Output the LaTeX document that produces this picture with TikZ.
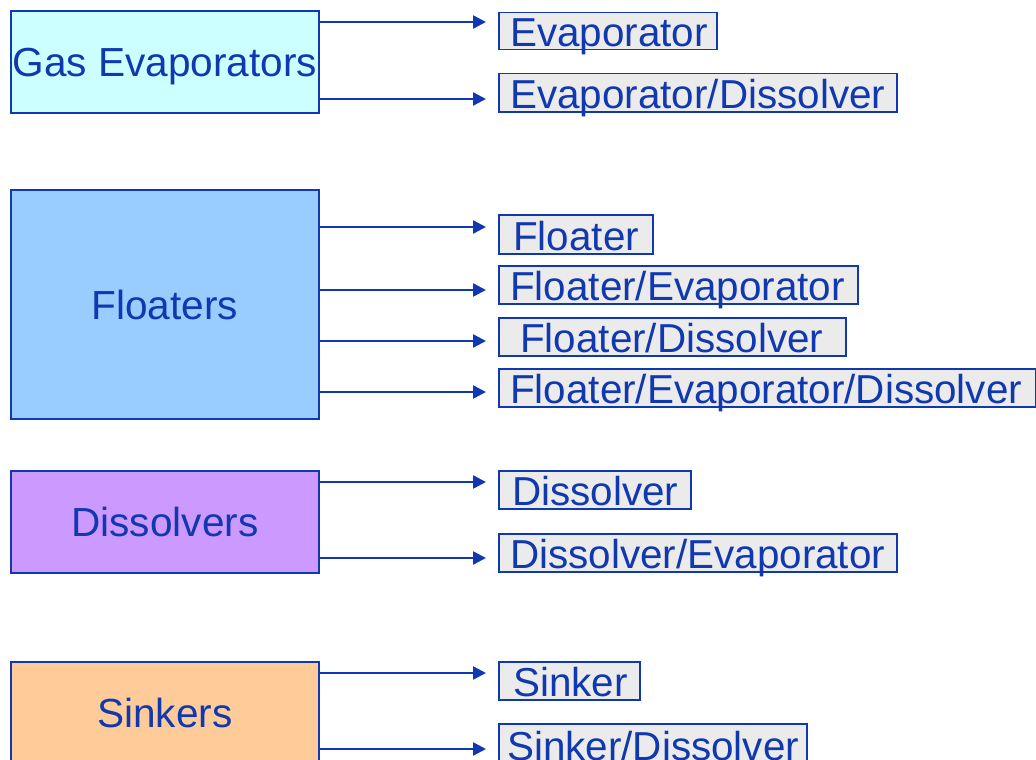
\documentclass[tikz,border=0pt]{standalone}
\usepackage{fontspec}
\setmainfont{Liberation Sans}
\usetikzlibrary{arrows.meta,calc}
\definecolor{ink}{RGB}{16,56,176}
\definecolor{gasfill}{RGB}{204,255,255}
\definecolor{floatfill}{RGB}{153,204,255}
\definecolor{dissfill}{RGB}{204,153,255}
\definecolor{sinkfill}{RGB}{255,204,153}
\definecolor{labfill}{RGB}{235,235,235}
\tikzset{
  x=1pt, y=-1pt,
  catbox/.style={draw=ink, line width=1.8pt, rectangle, anchor=north west, inner sep=0pt},
  cattext/.style={text=ink, font=\fontsize{40.6}{44}\selectfont, anchor=base, inner sep=0pt},
  labbox/.style={draw=ink, line width=1.5pt, fill=labfill, rectangle, anchor=north west, inner sep=0pt},
  labtext/.style={text=ink, font=\fontsize{40.4}{44}\selectfont, anchor=base west, inner sep=0pt},
  arr/.style={draw=ink, line width=2.5pt, -{Triangle[length=13pt,width=13pt]}},
}
\newcommand{\lab}[7]{% name, x, y, w, h, text xoffset, text
  \node[labbox, minimum width=#4pt, minimum height=#5pt] (#1) at (#2,#3) {};
  \node[labtext] (#1t) at ($(#1.south west)+(#6,-4)$) {#7};
}
\begin{document}
\begin{tikzpicture}
\useasboundingbox (0,0) rectangle (1036,760);
\fill[white] (0,0) rectangle (1036,760);
% category boxes
\node[catbox, fill=gasfill, minimum width=308pt, minimum height=102pt] (gas) at (10,10) {};
\node[cattext] (gast) at ($(gas.center)+(0,15)$) {Gas Evaporators};
\node[catbox, fill=floatfill, minimum width=308pt, minimum height=229pt] (flo) at (10,189) {};
\node[cattext] (flot) at ($(flo.center)+(0,15)$) {Floaters};
\node[catbox, fill=dissfill, minimum width=308pt, minimum height=102pt] (dis) at (10,470) {};
\node[cattext] (dist) at ($(dis.center)+(0,15)$) {Dissolvers};
\node[catbox, fill=sinkfill, minimum width=308pt, minimum height=104pt] (sin) at (10,661) {};
\node[cattext] (sint) at ($(sin.center)+(0,14)$) {Sinkers};
% label boxes
\lab{l1}{498}{12}{218}{37}{12}{Evaporator}
\lab{l2}{498}{73}{398}{38}{12}{Evaporator/Dissolver}
\lab{l3}{498}{214}{154}{39}{15}{Floater}
\lab{l4}{498}{265}{359}{38}{12}{Floater/Evaporator}
\lab{l5}{498}{317}{347}{38}{22}{Floater/Dissolver}
\lab{l6}{498}{368}{537}{38}{12}{Floater/Evaporator/Dissolver}
\lab{l7}{498}{470}{192}{38}{14}{Dissolver}
\lab{l8}{498}{533}{398}{38}{12}{Dissolver/Evaporator}
\lab{l9}{498}{661}{141}{38}{15}{Sinker}
\lab{l10}{498}{723}{308}{40}{9}{Sinker/Dissolver}
% arrows
\draw[arr] (gas.east |- 0,22) -- ([xshift=-12pt]l1.west |- 0,22);
\draw[arr] (gas.east |- 0,99) -- ([xshift=-12pt]l2.west |- 0,99);
\draw[arr] (flo.east |- 0,227) -- ([xshift=-12pt]l3.west |- 0,227);
\draw[arr] (flo.east |- 0,290) -- ([xshift=-12pt]l4.west |- 0,290);
\draw[arr] (flo.east |- 0,341) -- ([xshift=-12pt]l5.west |- 0,341);
\draw[arr] (flo.east |- 0,392) -- ([xshift=-12pt]l6.west |- 0,392);
\draw[arr] (dis.east |- 0,482) -- ([xshift=-12pt]l7.west |- 0,482);
\draw[arr] (dis.east |- 0,558) -- ([xshift=-12pt]l8.west |- 0,558);
\draw[arr] (sin.east |- 0,673) -- ([xshift=-12pt]l9.west |- 0,673);
\draw[arr] (sin.east |- 0,749) -- ([xshift=-12pt]l10.west |- 0,749);
\end{tikzpicture}
\end{document}
